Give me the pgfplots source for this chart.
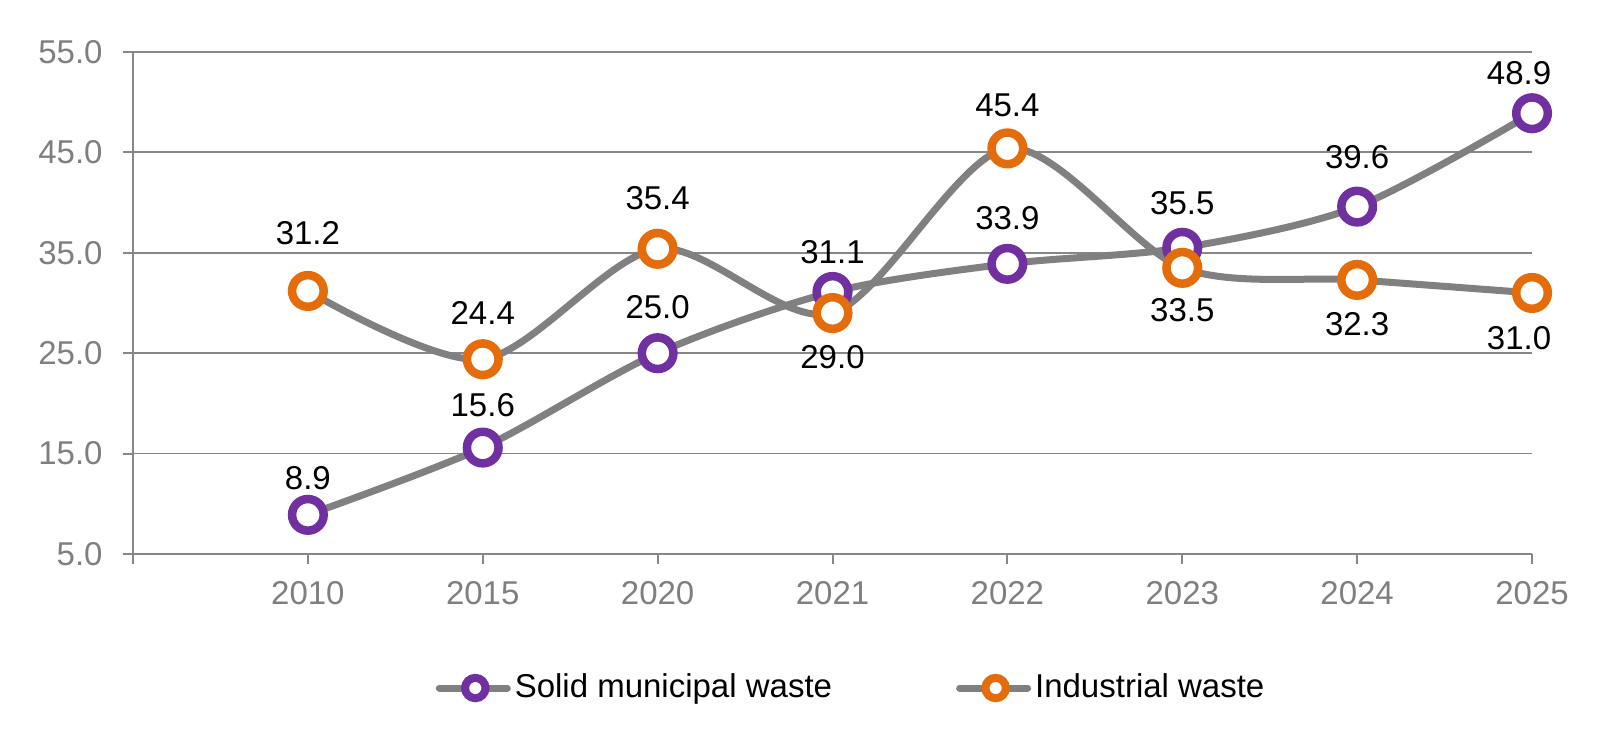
\documentclass[border=0pt]{standalone}
\usepackage{pgfplots}
\pgfplotsset{compat=1.18}
\usepackage{pgfplotstable}
\usepackage{fontspec}
\setmainfont{Liberation Sans}
\definecolor{cpurple}{HTML}{7030A0}
\definecolor{corange}{HTML}{E46C0A}
\definecolor{cline}{HTML}{808080}
\definecolor{cgrid}{HTML}{878787}
\definecolor{ctick}{HTML}{7F7F7F}

\pgfplotstableread{
x y dx dy
0 8.9 0 18.5
1 15.6 0 21
2 25.0 0 23
3 31.1 0 20
4 33.9 0 23
5 35.5 0 22.5
6 39.6 0 24.5
7 48.9 -6.5 20
}\solid

\pgfplotstableread{
x y dx dy
0 31.2 0 29
1 24.4 0 23
2 35.4 0 25.5
3 29.0 0 -22
4 45.4 0 21.5
5 33.5 0 -21
6 32.3 0 -22
7 31.0 -6.5 -22.5
}\industrial

\begin{document}
\fontsize{16.5}{20}\selectfont
\begin{tikzpicture}
\begin{axis}[
  at={(0pt,0pt)}, anchor=south west,
  scale only axis,
  width=699.5pt, height=251pt,
  xmin=-1, xmax=7, ymin=5, ymax=55,
  xtick={-1,0,1,2,3,4,5,6,7},
  xticklabels={,2010,2015,2020,2021,2022,2023,2024,2025},
  ytick={5,15,25,35,45,55},
  yticklabel style={/pgf/number format/fixed, /pgf/number format/fixed zerofill, /pgf/number format/precision=1},
  /pgf/number format/assume math mode=true,
  axis lines*=left,
  axis line style={cgrid, line width=1pt},
  tick style={cgrid, line width=1pt},
  tick align=outside,
  major tick length=5pt,
  ymajorgrids,
  major grid style={cgrid, line width=0.9pt},
  tick label style={font=\fontsize{16.5}{20}\selectfont, text=ctick},
  xticklabel style={yshift=-3pt},
  yticklabel style={xshift=-4.5pt},
  clip=false,
  legend columns=2,
  legend style={draw=none, fill=none, at={(0.514,-0.267)}, anchor=center,
    font=\fontsize{16.5}{20}\selectfont,
    /tikz/every even column/.append style={column sep=60pt}},
  nodes near coords,
  point meta=y,
  nodes near coords style={font=\fontsize{16.5}{20}\selectfont, text=black, anchor=center,
    /pgf/number format/fixed, /pgf/number format/fixed zerofill, /pgf/number format/precision=1},
  visualization depends on={\thisrow{dx} \as \ldx},
  visualization depends on={\thisrow{dy} \as \ldy},
  every node near coord/.append style={xshift=\ldx, yshift=\ldy},
]
\addplot[cline, line width=3.5pt, smooth, tension=0.5,
  mark=*, mark size=7.9pt, mark options={draw=cpurple, fill=white, line width=4.25pt},
  legend image code/.code={
    \draw[cline, line width=3.5pt, line cap=round] (0pt,0pt) -- (34pt,0pt);
    \draw[cpurple, fill=white, line width=4pt] (18pt,0pt) circle (5.1pt);
  }] table[x=x, y=y] {\solid};
\addlegendentry{Solid municipal waste}
\addplot[cline, line width=3.5pt, smooth, tension=0.5,
  mark=*, mark size=7.9pt, mark options={draw=corange, fill=white, line width=4.25pt},
  legend image code/.code={
    \draw[cline, line width=3.5pt, line cap=round] (0pt,0pt) -- (34pt,0pt);
    \draw[corange, fill=white, line width=4pt] (18pt,0pt) circle (5.1pt);
  }] table[x=x, y=y] {\industrial};
\addlegendentry{Industrial waste}
\end{axis}
\pgfresetboundingbox
\useasboundingbox (-66.5pt,-89pt) rectangle (735.5pt,277pt);
\end{tikzpicture}
\end{document}
